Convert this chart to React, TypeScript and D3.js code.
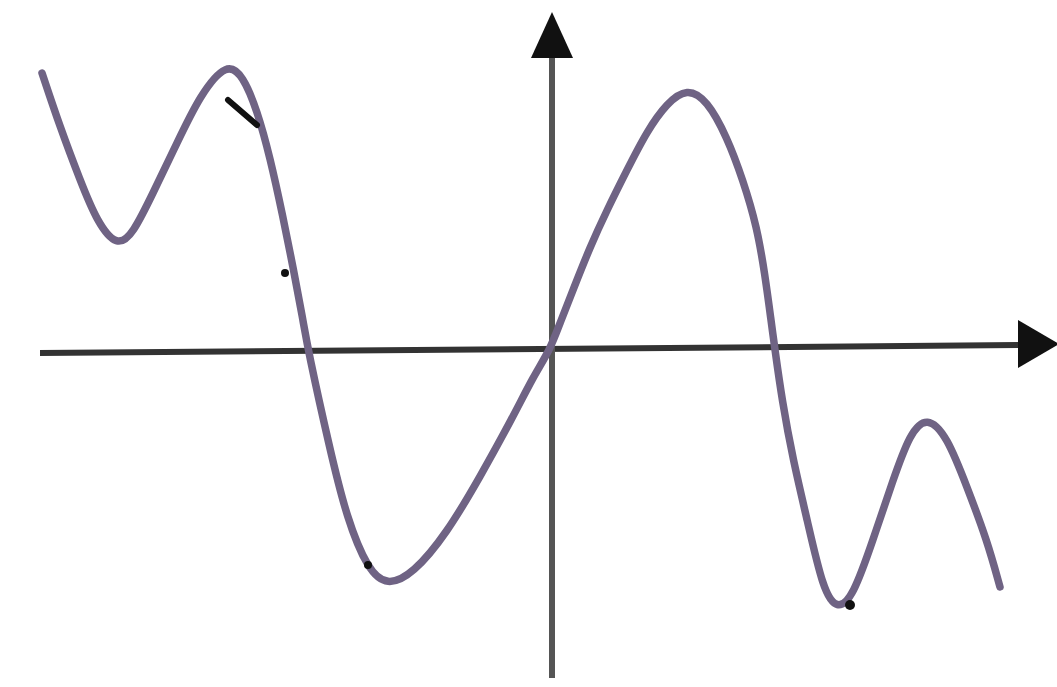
import React, { useEffect, useRef } from "react";
import * as d3 from "d3";

// Curve samples in axis units (origin at axes crossing; 1 unit ≈ 100px)
const curveX = [-5.1, -4.92, -4.72, -4.55, -4.35, -4.19, -3.99, -3.75, -3.52, -3.25, -3.09, -2.95, -2.82, -2.69, -2.59, -2.49, -2.44, -2.22, -2.05, -1.84, -1.65, -1.39, -1.05, -0.72, -0.39, -0.19, -0.02, 0.08, 0.21, 0.38, 0.55, 0.75, 0.95, 1.15, 1.35, 1.55, 1.75, 1.91, 2.05, 2.13, 2.19, 2.23, 2.3, 2.41, 2.55, 2.71, 2.85, 3.01, 3.21, 3.41, 3.58, 3.75, 3.95, 4.15, 4.35, 4.48];
const curveY = [2.77, 2.23, 1.7, 1.28, 1.03, 1.16, 1.57, 2.07, 2.55, 2.88, 2.74, 2.4, 1.93, 1.33, 0.83, 0.3, 0, -1.0, -1.69, -2.2, -2.36, -2.24, -1.83, -1.27, -0.67, -0.27, 0, 0.27, 0.6, 1.03, 1.4, 1.8, 2.19, 2.47, 2.62, 2.5, 2.13, 1.7, 1.23, 0.75, 0.3, 0, -0.5, -1.1, -1.69, -2.4, -2.6, -2.47, -1.9, -1.3, -0.83, -0.66, -0.86, -1.37, -1.9, -2.37];

// Small black pen marks
const dotX = [-2.67, -1.84, 2.98];
const dotY = [0.77, -2.15, -2.55];
const dashX = [-3.24, -2.95];
const dashY = [2.5, 2.25];

const W = 1057;
const H = 687;

export default function App() {
  const ref = useRef<SVGSVGElement | null>(null);

  useEffect(() => {
    const svg = d3.select(ref.current);
    svg.selectAll("*").remove();

    const x = d3.scaleLinear().domain([-5.52, 5.05]).range([0, W]);
    const y = d3.scaleLinear().domain([3.5, -3.37]).range([0, H]);

    // x-axis (slightly tilted like the hand-drawn original)
    svg.append("line")
      .attr("x1", x(-5.12)).attr("x2", x(4.75))
      .attr("y1", y(-0.03)).attr("y2", y(0.05))
      .attr("stroke", "#333").attr("stroke-width", 6);
    svg.append("path")
      .attr("d", `M${x(5.07)},${y(0.06)} L${x(4.66)},${y(0.06) - 24} L${x(4.66)},${y(0.06) + 24} Z`)
      .attr("fill", "#111");

    // y-axis
    svg.append("line")
      .attr("x1", x(0)).attr("x2", x(0))
      .attr("y1", y(-3.28)).attr("y2", y(2.95))
      .attr("stroke", "#555").attr("stroke-width", 6);
    svg.append("path")
      .attr("d", `M${x(0)},${y(3.38)} L${x(0) - 21},${y(2.92)} L${x(0) + 21},${y(2.92)} Z`)
      .attr("fill", "#111");

    // curve
    const pts: [number, number][] = curveX.map((v, i) => [v, curveY[i]]);
    const line = d3.line<[number, number]>()
      .x((d) => x(d[0]))
      .y((d) => y(d[1]))
      .curve(d3.curveBasis);
    svg.append("path")
      .attr("d", line(pts) as string)
      .attr("fill", "none")
      .attr("stroke", "#6f6384")
      .attr("stroke-width", 7.5)
      .attr("stroke-linecap", "round")
      .attr("stroke-linejoin", "round");

    // pen marks
    svg.append("line")
      .attr("x1", x(dashX[0])).attr("y1", y(dashY[0]))
      .attr("x2", x(dashX[1])).attr("y2", y(dashY[1]))
      .attr("stroke", "#111").attr("stroke-width", 6).attr("stroke-linecap", "round");
    dotX.forEach((v, i) => {
      svg.append("circle")
        .attr("cx", x(v)).attr("cy", y(dotY[i]))
        .attr("r", i === 2 ? 5 : 4)
        .attr("fill", "#111");
    });
  }, []);

  return (
    <svg
      ref={ref}
      width={W}
      height={H}
      style={{ position: "absolute", left: 0, top: 0, background: "#fff", display: "block" }}
    />
  );
}
